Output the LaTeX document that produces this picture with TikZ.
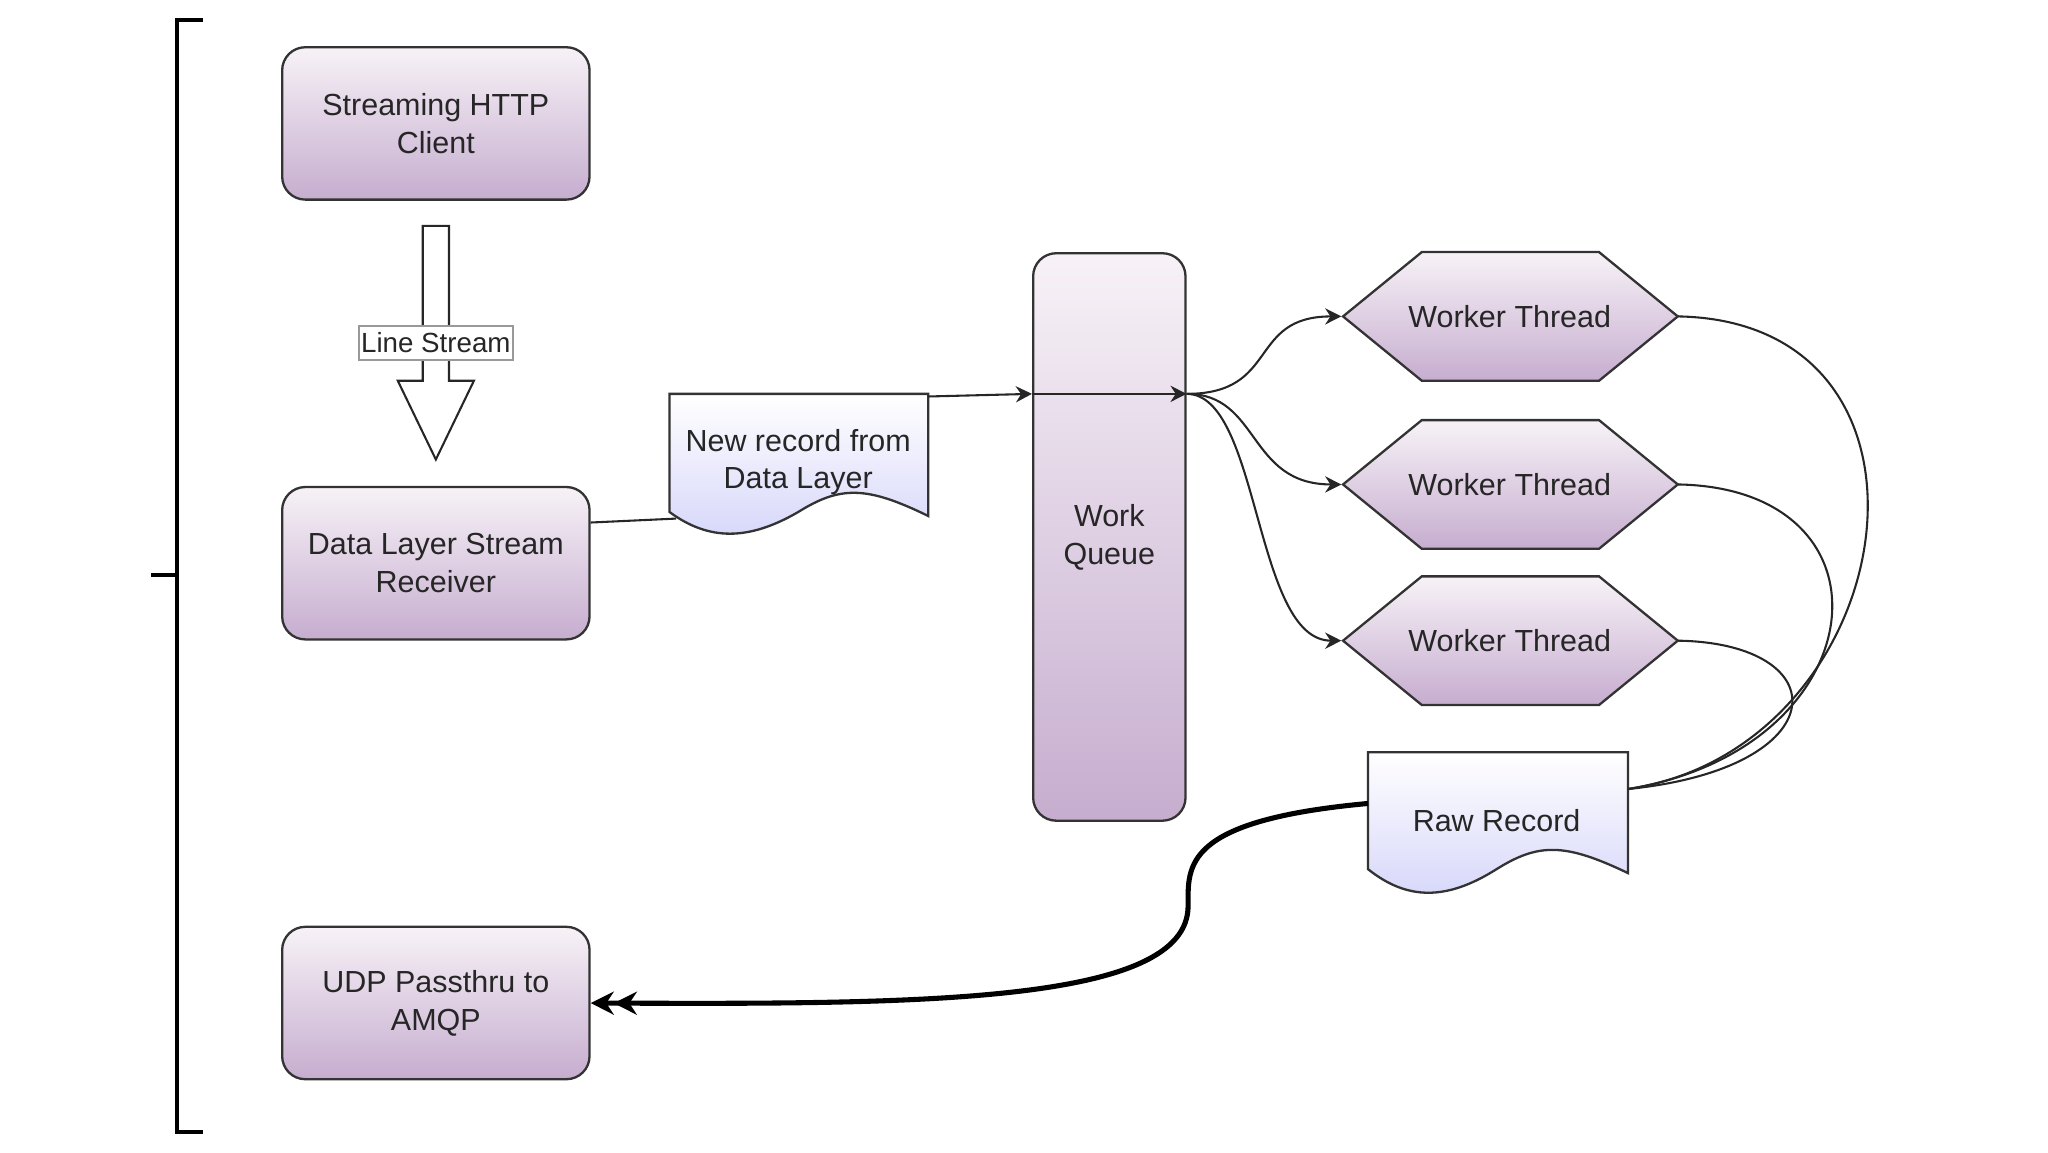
\documentclass[tikz,border=0pt]{standalone}
\usepackage{fontspec}
\setmainfont{Liberation Sans}
\usetikzlibrary{arrows.meta,calc}
\definecolor{ptop}{HTML}{F7F2F7}
\definecolor{pbot}{HTML}{C6ADCF}
\definecolor{dbot}{HTML}{D6D6FA}
\begin{document}
\begin{tikzpicture}[x=0.01cm,y=-0.01cm,
  txt/.style={font=\fontsize{6.6}{8.2}\selectfont,align=center,text=black!85},
  box/.style={txt,draw=black!80,line width=0.5pt,rounded corners=5pt,top color=ptop,bottom color=pbot,minimum width=2.34cm,minimum height=1.16cm},
  con/.style={draw=black!85,line width=0.45pt},
  tip/.style={-{Stealth[length=3.5pt,width=3.5pt]}}]
\useasboundingbox (0,0) rectangle (1560,877.5);
% bracket
\draw[line width=0.8pt] (155,15) -- (135,15) -- (135,862) -- (155,862);
\draw[line width=0.8pt] (115,438) -- (135,438);
% boxes
\node[box] (http) at (332,94) {Streaming HTTP\\Client};
\node[box] (dl) at (332,429) {Data Layer Stream\\Receiver};
\node[box] (udp) at (332,764) {UDP Passthru to\\AMQP};
\node[box,minimum width=1.16cm,minimum height=4.32cm] (wq) at (845,409) {Work\\Queue};
% hollow arrow
\draw[con,fill=white] (322,172) -- (342,172) -- (342,290) -- (361,290) -- (332,350) -- (303,290) -- (322,290) -- cycle;
\node[txt,font=\fontsize{6}{7}\selectfont,draw=black!40,fill=white,inner sep=0.5pt,minimum width=1.15cm,minimum height=0.26cm] (ls) at (332,261) {Line Stream};
% documents
\shade[top color=white,bottom color=dbot,draw=black!80,line width=0.5pt]
 (510,300) -- (707,300) -- (707,393) .. controls (660,370) and (640,370) .. (608,390) .. controls (570,412) and (540,412) .. (510,390) -- cycle;
\node[txt] (nr) at (608,352) {New record from\\Data Layer};
\shade[top color=white,bottom color=dbot,draw=black!80,line width=0.5pt]
 (1042,573) -- (1240,573) -- (1240,665) .. controls (1192,642) and (1172,642) .. (1140,662) .. controls (1102,686) and (1072,686) .. (1042,662) -- cycle;
\node[txt] (rr) at (1140,625) {Raw Record};
\coordinate (nrL) at (515,395);
\coordinate (nrR) at (707,302);
\coordinate (rrR) at (1240,601);
\coordinate (rrL) at (1042,612);
% workers
\foreach \n/\y in {w1/241,w2/369,w3/488}{
  \shade[top color=ptop,bottom color=pbot,draw=black!80,line width=0.5pt]
   (1023,\y) -- (1083,\y-49) -- (1218,\y-49) -- (1278,\y) -- (1218,\y+49) -- (1083,\y+49) -- cycle;
  \node[txt,minimum width=2.55cm,minimum height=0.98cm,inner sep=0pt] (\n) at (1150,\y) {Worker Thread};
}
% connectors
\draw[con] (dl.east|-0,398) -- (nrL);
\draw[con,tip] (nrR) -- (wq.west|-0,300);
\coordinate (qo) at (wq.east|-0,300);
\draw[con,tip] (wq.west|-0,300) -- (qo);
\draw[con,tip] (qo) .. controls (975,300) and (950,241) .. (w1.west);
\draw[con,tip] (qo) .. controls (960,300) and (950,369) .. (w2.west);
\draw[con,tip] (qo) .. controls (960,300) and (955,488) .. (w3.west);
\draw[con] (w1.east) .. controls (1500,245) and (1450,570) .. (rrR);
\draw[con] (w2.east) .. controls (1450,372) and (1430,570) .. (rrR);
\draw[con] (w3.east) .. controls (1400,490) and (1400,585) .. (rrR);
\draw[line width=1.1pt,-{Stealth[length=5pt,width=5pt]Stealth[length=5pt,width=5pt]}] (rrL) .. controls (900,625) and (905,660) .. (905,690) .. controls (905,765) and (700,765) .. (udp.east);
\end{tikzpicture}
\end{document}
